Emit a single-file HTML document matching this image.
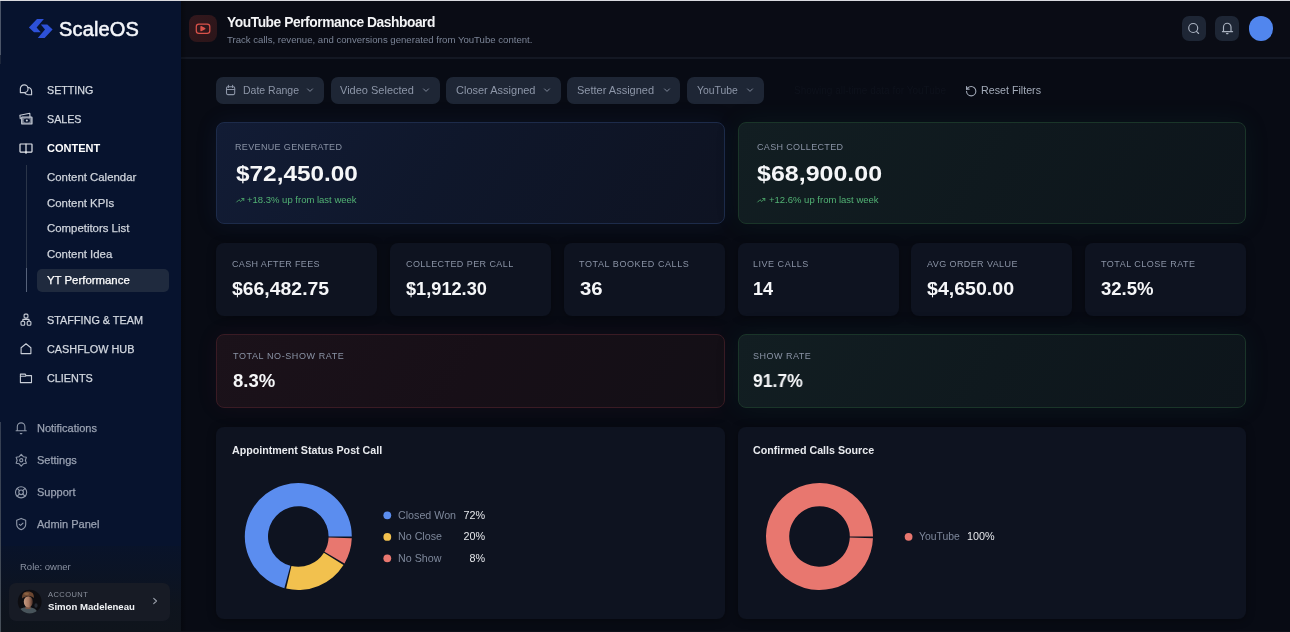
<!DOCTYPE html>
<html><head><meta charset="utf-8"><title>YouTube Performance Dashboard</title><style>
*{margin:0;padding:0;box-sizing:border-box}
html,body{width:1290px;height:632px;overflow:hidden;background:#080b14;font-family:"Liberation Sans",sans-serif}
.t{position:absolute;line-height:1;white-space:nowrap;will-change:transform}
.ic{position:absolute;overflow:visible}
.abs{position:absolute}
.card{position:absolute;border-radius:8px;background:#0e1320;box-shadow:0 1px 8px rgba(0,0,0,0.35)}
.btn{position:absolute;border-radius:7px;background:#1e2635}
</style></head><body>
<div class="abs" style="left:181px;top:0;width:1109px;height:632px;background:#080b14"></div>
<div class="abs" style="left:181px;top:0;width:1109px;height:57px;background:#0a0c15"></div>
<div class="abs" style="left:181px;top:57px;width:1109px;height:2px;background:#141823"></div>
<div class="abs" style="left:0;top:0;width:181px;height:632px;background:#07132e"></div>
<div class="abs" style="left:0;top:546px;width:181px;height:86px;background:linear-gradient(180deg,rgba(14,20,30,0.25) 0%,rgba(14,20,30,0.55) 30%,rgba(15,20,28,0.9) 70%,#0f141c 100%)"></div>
<div class="abs" style="left:181px;top:0;width:6px;height:632px;background:linear-gradient(90deg,rgba(0,0,0,0.25),rgba(0,0,0,0))"></div>
<svg class="abs" style="left:0;top:0" width="181" height="60" viewBox="0 0 181 60"><polygon fill="#2d51d8" points="37,18.9 43.9,18.9 36.6,27.4 40.8,32.3 34,32.3 28.9,27.4"/><polygon fill="#2d51d8" points="40.8,24.5 47.3,24.5 52.6,29.5 44.6,38 37.8,38 45,29.5"/></svg>
<div class="t" style="left:58.6px;top:19.07px;font-size:20px;color:#f4f6fa;letter-spacing:0.15px;-webkit-text-stroke:0.55px #f4f6fa;">ScaleOS</div>
<div class="t" style="left:47.0px;top:85.14px;font-size:10.7px;color:#d3d8e0;-webkit-text-stroke:0.25px #d3d8e0;">SETTING</div>
<div class="t" style="left:47.0px;top:114.34px;font-size:10.7px;color:#d3d8e0;-webkit-text-stroke:0.25px #d3d8e0;">SALES</div>
<div class="t" style="left:47.0px;top:143.29px;font-size:11px;color:#ffffff;font-weight:700;">CONTENT</div>
<div class="abs" style="left:26px;top:165px;width:1px;height:127px;background:#2a3549"></div>
<div class="abs" style="left:26px;top:268px;width:1px;height:24px;background:#56627a"></div>
<div class="abs" style="left:37px;top:268.5px;width:132px;height:23.5px;border-radius:5px;background:#1f2a3e"></div>
<div class="t" style="left:46.7px;top:172.45px;font-size:11.4px;color:#cfd4dc;-webkit-text-stroke:0.25px #cfd4dc;">Content Calendar</div>
<div class="t" style="left:46.7px;top:198.05px;font-size:11.4px;color:#cfd4dc;-webkit-text-stroke:0.25px #cfd4dc;">Content KPIs</div>
<div class="t" style="left:46.7px;top:223.35px;font-size:11.4px;color:#cfd4dc;-webkit-text-stroke:0.25px #cfd4dc;">Competitors List</div>
<div class="t" style="left:46.7px;top:248.95px;font-size:11.4px;color:#cfd4dc;-webkit-text-stroke:0.25px #cfd4dc;">Content Idea</div>
<div class="t" style="left:46.7px;top:274.55px;font-size:11.4px;color:#ffffff;-webkit-text-stroke:0.25px #ffffff;">YT Performance</div>
<div class="t" style="left:47.0px;top:315.02px;font-size:10.85px;color:#d3d8e0;-webkit-text-stroke:0.25px #d3d8e0;">STAFFING &amp; TEAM</div>
<div class="t" style="left:47.0px;top:344.02px;font-size:10.85px;color:#d3d8e0;-webkit-text-stroke:0.25px #d3d8e0;">CASHFLOW HUB</div>
<div class="t" style="left:47.0px;top:373.42px;font-size:10.85px;color:#d3d8e0;-webkit-text-stroke:0.25px #d3d8e0;">CLIENTS</div>
<div class="t" style="left:37.0px;top:423.19px;font-size:11px;color:#9aa2b2;-webkit-text-stroke:0.25px #9aa2b2;">Notifications</div>
<div class="t" style="left:37.0px;top:454.99px;font-size:11px;color:#9aa2b2;-webkit-text-stroke:0.25px #9aa2b2;">Settings</div>
<div class="t" style="left:37.0px;top:486.89px;font-size:11px;color:#9aa2b2;-webkit-text-stroke:0.25px #9aa2b2;">Support</div>
<div class="t" style="left:37.0px;top:518.99px;font-size:11px;color:#9aa2b2;-webkit-text-stroke:0.25px #9aa2b2;">Admin Panel</div>
<div class="t" style="left:19.5px;top:562.16px;font-size:9.5px;color:#8a92a2;">Role: owner</div>
<div class="abs" style="left:8.5px;top:582.5px;width:161px;height:38px;border-radius:7px;background:#171b25"></div>
<svg class="abs" style="left:14px;top:587px" width="30" height="30" viewBox="0 0 30 30"><defs><clipPath id="av"><circle cx="15.7" cy="14.7" r="11.9"/></clipPath><linearGradient id="fc" x1="0" x2="1" y1="0" y2="0"><stop offset="0" stop-color="#c49a82"/><stop offset="0.55" stop-color="#a87860"/><stop offset="1" stop-color="#4a3028"/></linearGradient></defs><g clip-path="url(#av)"><rect width="30" height="30" fill="#0d0d11"/><ellipse cx="13.6" cy="25.5" rx="9.5" ry="5.5" fill="#48545b"/><rect x="11.5" y="17" width="5" height="5" fill="#7a5646"/><ellipse cx="14.3" cy="14.8" rx="4.5" ry="5.6" fill="url(#fc)"/><path d="M8.2 11.5C7.6 6.5 10.5 4.6 14 4.6C17.8 4.6 20.4 6.6 19.8 11.2C18.6 9.4 16.5 9 14.2 9.3C11.8 9.6 9.6 10 8.2 11.5Z" fill="#6b4630"/><ellipse cx="12.5" cy="6.8" rx="2.5" ry="1.3" fill="#8a6040"/><ellipse cx="22" cy="18.5" rx="1.6" ry="2.2" fill="#262a33"/></g></svg>
<div class="t" style="left:48.0px;top:591.05px;font-size:7.5px;color:#8b919d;letter-spacing:0.45px;">ACCOUNT</div>
<div class="t" style="left:48.0px;top:601.87px;font-size:9.6px;color:#f1f3f6;font-weight:700;">Simon Madeleneau</div>
<svg class="ic" style="left:17px;top:82px;width:18px;height:18px" viewBox="0 0 18 18" fill="none" stroke="#c9ced8" stroke-width="1.15" stroke-linecap="round" stroke-linejoin="round"><path d="M3.35 10.4V6.7A3.85 3.85 0 1 1 7.2 10.55H3.35z"/><path d="M10.9 5.5A3.9 3.9 0 0 1 14.6 9.3V12.7H10.9A3.9 3.9 0 0 1 7.5 10.6"/></svg>
<svg class="ic" style="left:17px;top:111px;width:18px;height:18px" viewBox="0 0 18 18" fill="none" stroke="#c9ced8" stroke-width="1.15" stroke-linecap="round" stroke-linejoin="round"><path d="M3.3 7.6L2.9 4.3L12.8 2.3L13 5.9"/><rect x="4.7" y="6" width="10.3" height="7" rx="0.6" fill="rgba(201,206,216,0.55)"/><ellipse cx="9.85" cy="9.5" rx="3.1" ry="2.1" fill="#07132e" stroke="none"/><circle cx="9.85" cy="9.5" r="1.05" fill="#c9ced8" stroke="none"/></svg>
<svg class="ic" style="left:17px;top:139px;width:18px;height:18px" viewBox="0 0 18 18" fill="none" stroke="#e3e6eb" stroke-width="1.2" stroke-linecap="round" stroke-linejoin="round"><rect x="3" y="5" width="12" height="8.1" rx="0.5"/><path d="M9 5V13.1"/><path d="M9 13.1V14.1" stroke-width="1.6"/></svg>
<svg class="ic" style="left:17px;top:312px;width:18px;height:18px" viewBox="0 0 18 18" fill="none" stroke="#c9ced8" stroke-width="1.1" stroke-linecap="round" stroke-linejoin="round"><rect x="7.1" y="2.1" width="3.8" height="3.9" rx="1"/><rect x="4" y="9.2" width="3.7" height="4.1" rx="1"/><rect x="10.2" y="9.2" width="3.7" height="4.1" rx="1"/><path d="M9 6V7.4M5.85 9.2V7.4H12.05V9.2"/></svg>
<svg class="ic" style="left:17px;top:340px;width:18px;height:18px" viewBox="0 0 18 18" fill="none" stroke="#c9ced8" stroke-width="1.1" stroke-linecap="round" stroke-linejoin="round"><path d="M4.1 13.6V7.8L9 3.8L13.9 7.8V13.6Z"/></svg>
<svg class="ic" style="left:17px;top:369px;width:18px;height:18px" viewBox="0 0 18 18" fill="none" stroke="#c9ced8" stroke-width="1.1" stroke-linecap="round" stroke-linejoin="round"><path d="M3.4 13.6V5.1H8.2L9 6.6H14.5V13.6Z"/><path d="M3.4 7.3H8.3L9 6.6"/></svg>
<svg class="ic" style="left:12px;top:420px;width:18px;height:18px" viewBox="0 0 18 18" fill="none" stroke="#8f98a9" stroke-width="1.1" stroke-linecap="round" stroke-linejoin="round"><path d="M4.1 10.8H14.3M5.3 10.8V6.7A3.8 3.8 0 0 1 12.9 6.7V10.8"/><path d="M8.4 13.6H9.8" stroke-width="1.3"/></svg>
<svg class="ic" style="left:12px;top:452px;width:18px;height:18px" viewBox="0 0 18 18" fill="none" stroke="#8f98a9" stroke-width="1.1" stroke-linecap="round" stroke-linejoin="round"><polygon points="9.26,2.36 7.21,4.71 4.15,5.31 5.16,8.26 4.15,11.21 7.21,11.81 9.26,14.16 11.31,11.81 14.37,11.21 13.36,8.26 14.37,5.31 11.31,4.71"/><circle cx="9.26" cy="8.26" r="1.6"/></svg>
<svg class="ic" style="left:12px;top:484px;width:18px;height:18px" viewBox="0 0 18 18" fill="none" stroke="#8f98a9" stroke-width="1.1" stroke-linecap="round" stroke-linejoin="round"><circle cx="9.1" cy="8.3" r="5.6"/><circle cx="9.1" cy="8.3" r="2.3"/><path d="M5.15 4.35L7.5 6.7M13.05 4.35L10.7 6.7M13.05 12.25L10.7 9.9M5.15 12.25L7.5 9.9"/></svg>
<svg class="ic" style="left:12px;top:516px;width:18px;height:18px" viewBox="0 0 18 18" fill="none" stroke="#8f98a9" stroke-width="1.1" stroke-linecap="round" stroke-linejoin="round"><path d="M9.2 2.4L13.7 4.2V8.3C13.7 11.2 11.6 12.9 9.2 13.8C6.8 12.9 4.7 11.2 4.7 8.3V4.2Z"/><path d="M7.3 8.3L8.6 9.4L11 7.2"/></svg>
<svg class="ic" style="left:148px;top:592px;width:18px;height:18px" viewBox="0 0 18 18" fill="none" stroke="#9aa0ab" stroke-width="1.1" stroke-linecap="round" stroke-linejoin="round"><path d="M5.7 6.3L8.5 9L5.7 11.7"/></svg>
<div class="abs" style="left:189px;top:15px;width:27.5px;height:27.2px;border-radius:8px;background:linear-gradient(135deg,#34181d,#2b1519)"></div>
<svg class="ic" style="left:187px;top:13px;width:32px;height:32px" viewBox="0 0 32 32" fill="none" stroke="#d9524a" stroke-width="1.25" stroke-linecap="round" stroke-linejoin="round"><rect x="9.3" y="11" width="13.5" height="9.3" rx="2.6"/><path d="M14 13.6L17.8 15.65L14 17.7Z" fill="#d9524a"/></svg>
<div class="t" style="left:226.5px;top:16.32px;font-size:13.8px;color:#f3f4f6;font-weight:700;letter-spacing:-0.45px;">YouTube Performance Dashboard</div>
<div class="t" style="left:226.7px;top:34.57px;font-size:9.6px;color:#7b8496;">Track calls, revenue, and conversions generated from YouTube content.</div>
<div class="btn" style="left:1181.8px;top:16.4px;width:24.2px;height:24.2px"></div>
<svg class="ic" style="left:1180px;top:15px;width:28px;height:28px" viewBox="0 0 28 28" fill="none" stroke="#aab2c0" stroke-width="1.15" stroke-linecap="round" stroke-linejoin="round"><circle cx="13.2" cy="13" r="4.5"/><path d="M16.5 16.4L18.6 18.5"/></svg>
<div class="btn" style="left:1215.3px;top:16.4px;width:24px;height:24.2px"></div>
<svg class="ic" style="left:1214px;top:15px;width:28px;height:28px" viewBox="0 0 28 28" fill="none" stroke="#aab2c0" stroke-width="1.15" stroke-linecap="round" stroke-linejoin="round"><path d="M8.4 16.6H18.6M9.5 16.6V12A3.75 3.75 0 0 1 17 12V16.6"/><path d="M12.6 18.6H13.9" stroke-width="1.4"/></svg>
<div class="abs" style="left:1248.8px;top:16.3px;width:24.5px;height:24.5px;border-radius:50%;background:#5186ee"></div>
<div class="btn" style="left:216px;top:77px;width:108.4px;height:27px"></div>
<div class="t" style="left:242.6px;top:85.31px;font-size:10.5px;color:#8d96a8;">Date Range</div>
<svg class="ic" style="left:304.4px;top:81px;width:18px;height:18px" viewBox="0 0 18 18" fill="none" stroke="#7f889a" stroke-width="1.0" stroke-linecap="round" stroke-linejoin="round"><path d="M3.5 7.9L6 10.4L8.5 7.9"/></svg>
<svg class="ic" style="left:220px;top:80px;width:18px;height:18px" viewBox="0 0 18 18" fill="none" stroke="#8d96a8" stroke-width="1.05" stroke-linecap="round" stroke-linejoin="round"><rect x="6.5" y="6.8" width="8.2" height="7.8" rx="1.3"/><path d="M8.4 5.3V7.5M12.6 5.3V7.5M6.5 9.5H14.7"/></svg>
<div class="btn" style="left:331.3px;top:77px;width:108.8px;height:27px"></div>
<div class="t" style="left:340.2px;top:84.89px;font-size:11px;color:#8d96a8;">Video Selected</div>
<svg class="ic" style="left:420.1px;top:81px;width:18px;height:18px" viewBox="0 0 18 18" fill="none" stroke="#7f889a" stroke-width="1.0" stroke-linecap="round" stroke-linejoin="round"><path d="M3.5 7.9L6 10.4L8.5 7.9"/></svg>
<div class="btn" style="left:446.4px;top:77px;width:114.3px;height:27px"></div>
<div class="t" style="left:455.9px;top:84.89px;font-size:11px;color:#8d96a8;">Closer Assigned</div>
<svg class="ic" style="left:540.7px;top:81px;width:18px;height:18px" viewBox="0 0 18 18" fill="none" stroke="#7f889a" stroke-width="1.0" stroke-linecap="round" stroke-linejoin="round"><path d="M3.5 7.9L6 10.4L8.5 7.9"/></svg>
<div class="btn" style="left:567.4px;top:77px;width:113.1px;height:27px"></div>
<div class="t" style="left:576.9px;top:84.89px;font-size:11px;color:#8d96a8;">Setter Assigned</div>
<svg class="ic" style="left:660.5px;top:81px;width:18px;height:18px" viewBox="0 0 18 18" fill="none" stroke="#7f889a" stroke-width="1.0" stroke-linecap="round" stroke-linejoin="round"><path d="M3.5 7.9L6 10.4L8.5 7.9"/></svg>
<div class="btn" style="left:687.1px;top:77px;width:76.5px;height:27px"></div>
<div class="t" style="left:696.6px;top:85.90px;font-size:10.4px;color:#8d96a8;">YouTube</div>
<svg class="ic" style="left:743.6px;top:81px;width:18px;height:18px" viewBox="0 0 18 18" fill="none" stroke="#7f889a" stroke-width="1.0" stroke-linecap="round" stroke-linejoin="round"><path d="M3.5 7.9L6 10.4L8.5 7.9"/></svg>
<svg class="ic" style="left:964.95px;top:84.65px;width:12.4px;height:12.4px;" viewBox="0 0 24 24" fill="none" stroke="#a3abb9" stroke-width="2.1" stroke-linecap="round" stroke-linejoin="round"><path d="M3 12a9 9 0 1 0 9-9 9.75 9.75 0 0 0-6.74 2.74L3 8"/><path d="M3 3v5h5"/></svg>
<div class="t" style="left:981.4px;top:84.94px;font-size:10.7px;color:#a3abb9;">Reset Filters</div>
<div class="t" style="left:794.0px;top:86.03px;font-size:10px;color:#0e121c;">Showing all-time data for YouTube</div>
<div class="card" style="left:216px;top:122.3px;width:508.5px;height:102px;border:1px solid #1d2b4a;background:linear-gradient(120deg,#121c35 0%,#0f172b 45%,#0e1322 100%);box-shadow:0 0 22px rgba(40,70,140,0.12)"></div>
<div class="card" style="left:737.5px;top:122.3px;width:508.5px;height:102px;border:1px solid #1a3529;background:linear-gradient(120deg,#121e22 0%,#0f191e 50%,#0d151b 100%);box-shadow:0 0 26px rgba(30,120,90,0.10)"></div>
<div class="t" style="left:235.1px;top:143.28px;font-size:9px;color:#8a93a5;letter-spacing:0.35px;">REVENUE GENERATED</div>
<div class="t" style="left:236.0px;top:162.98px;font-size:22px;color:#f5f6f8;font-weight:700;transform:scaleX(1.107);transform-origin:0 0;">$72,450.00</div>
<svg class="ic" style="left:235.5px;top:195.5px;width:8.5px;height:8.5px;" viewBox="0 0 24 24" fill="none" stroke="#4fae6e" stroke-width="2.4" stroke-linecap="round" stroke-linejoin="round"><polyline points="22 7 13.5 15.5 8.5 10.5 2 17"/><polyline points="16 7 22 7 22 13"/></svg>
<div class="t" style="left:247.3px;top:194.86px;font-size:9.5px;color:#52b274;">+18.3% up from last week</div>
<div class="t" style="left:757.0px;top:143.28px;font-size:9px;color:#8a93a5;letter-spacing:0.35px;">CASH COLLECTED</div>
<div class="t" style="left:757.2px;top:162.98px;font-size:22px;color:#f5f6f8;font-weight:700;transform:scaleX(1.136);transform-origin:0 0;">$68,900.00</div>
<svg class="ic" style="left:757px;top:195.5px;width:8.5px;height:8.5px;" viewBox="0 0 24 24" fill="none" stroke="#4fae6e" stroke-width="2.4" stroke-linecap="round" stroke-linejoin="round"><polyline points="22 7 13.5 15.5 8.5 10.5 2 17"/><polyline points="16 7 22 7 22 13"/></svg>
<div class="t" style="left:768.8px;top:194.86px;font-size:9.5px;color:#52b274;">+12.6% up from last week</div>
<div class="card" style="left:216.3px;top:243px;width:161px;height:72.6px"></div>
<div class="t" style="left:231.8px;top:259.78px;font-size:9px;color:#8a93a5;letter-spacing:0.36px;">CASH AFTER FEES</div>
<div class="t" style="left:232.1px;top:280.16px;font-size:18px;color:#f5f6f8;font-weight:700;transform:scaleX(1.078);transform-origin:0 0;">$66,482.75</div>
<div class="card" style="left:390px;top:243px;width:161px;height:72.6px"></div>
<div class="t" style="left:405.5px;top:259.78px;font-size:9px;color:#8a93a5;letter-spacing:0.42px;">COLLECTED PER CALL</div>
<div class="t" style="left:405.8px;top:280.16px;font-size:18px;color:#f5f6f8;font-weight:700;transform:scaleX(1.01);transform-origin:0 0;">$1,912.30</div>
<div class="card" style="left:563.8px;top:243px;width:161px;height:72.6px"></div>
<div class="t" style="left:579.3px;top:259.78px;font-size:9px;color:#8a93a5;letter-spacing:0.58px;">TOTAL BOOKED CALLS</div>
<div class="t" style="left:579.6px;top:280.16px;font-size:18px;color:#f5f6f8;font-weight:700;transform:scaleX(1.13);transform-origin:0 0;">36</div>
<div class="card" style="left:737.5px;top:243px;width:161px;height:72.6px"></div>
<div class="t" style="left:753.0px;top:259.78px;font-size:9px;color:#8a93a5;letter-spacing:0.52px;">LIVE CALLS</div>
<div class="t" style="left:753.3px;top:280.16px;font-size:18px;color:#f5f6f8;font-weight:700;">14</div>
<div class="card" style="left:911px;top:243px;width:161px;height:72.6px"></div>
<div class="t" style="left:926.5px;top:259.78px;font-size:9px;color:#8a93a5;letter-spacing:0.41px;">AVG ORDER VALUE</div>
<div class="t" style="left:926.8px;top:280.16px;font-size:18px;color:#f5f6f8;font-weight:700;transform:scaleX(1.0875);transform-origin:0 0;">$4,650.00</div>
<div class="card" style="left:1085px;top:243px;width:161px;height:72.6px"></div>
<div class="t" style="left:1100.5px;top:259.78px;font-size:9px;color:#8a93a5;letter-spacing:0.49px;">TOTAL CLOSE RATE</div>
<div class="t" style="left:1100.8px;top:280.16px;font-size:18px;color:#f5f6f8;font-weight:700;transform:scaleX(1.03);transform-origin:0 0;">32.5%</div>
<div class="card" style="left:216px;top:334px;width:508.5px;height:74.4px;border:1px solid #3a1b24;background:linear-gradient(120deg,#1b121a 0%,#170f17 50%,#130f16 100%);box-shadow:0 0 22px rgba(140,40,60,0.08)"></div>
<div class="card" style="left:737.5px;top:334px;width:508.5px;height:74.4px;border:1px solid #1a3529;background:linear-gradient(120deg,#121e22 0%,#0f191e 50%,#0d151b 100%);box-shadow:0 0 26px rgba(30,120,90,0.10)"></div>
<div class="t" style="left:232.5px;top:352.38px;font-size:9px;color:#8a93a5;letter-spacing:0.6px;">TOTAL NO-SHOW RATE</div>
<div class="t" style="left:232.5px;top:371.86px;font-size:18px;color:#f5f6f8;font-weight:700;transform:scaleX(1.03);transform-origin:0 0;">8.3%</div>
<div class="t" style="left:753.2px;top:352.38px;font-size:9px;color:#8a93a5;letter-spacing:0.5px;">SHOW RATE</div>
<div class="t" style="left:753.2px;top:371.86px;font-size:18px;color:#f5f6f8;font-weight:700;transform:scaleX(0.976);transform-origin:0 0;">91.7%</div>
<div class="card" style="left:216.3px;top:427.1px;width:508.5px;height:191.6px"></div>
<div class="card" style="left:737.5px;top:427.1px;width:508.5px;height:191.6px"></div>
<div class="t" style="left:231.7px;top:444.64px;font-size:10.7px;color:#e8eaee;font-weight:700;">Appointment Status Post Call</div>
<div class="t" style="left:752.7px;top:444.64px;font-size:10.7px;color:#e8eaee;font-weight:700;">Confirmed Calls Source</div>
<svg class="abs" style="left:0;top:0" width="1290" height="632" viewBox="0 0 1290 632"><path d="M351.80 536.50 A53.5 53.5 0 1 0 284.34 588.15 L290.40 565.75 A30.3 30.3 0 1 1 328.60 536.50 Z" fill="#5b8def"/><path d="M286.16 588.60 A53.5 53.5 0 0 0 343.51 565.10 L323.91 552.70 A30.3 30.3 0 0 1 291.42 566.01 Z" fill="#f2c14e"/><path d="M344.48 563.51 A53.5 53.5 0 0 0 351.77 538.37 L328.58 537.56 A30.3 30.3 0 0 1 324.46 551.80 Z" fill="#e8776f"/><path d="M873.00 536.50 A53.5 53.5 0 1 0 872.97 538.37 L849.78 537.56 A30.3 30.3 0 1 1 849.80 536.50 Z" fill="#e8776f"/><circle cx="387.3" cy="515.3" r="3.9" fill="#5b8def"/><circle cx="387.3" cy="536.9" r="3.9" fill="#f2c14e"/><circle cx="387.3" cy="558.3" r="3.9" fill="#e8776f"/><circle cx="908.6" cy="536.8" r="3.9" fill="#e8776f"/></svg>
<div class="t" style="left:397.8px;top:509.94px;font-size:10.7px;color:#7d879a;">Closed Won</div>
<div class="t" style="left:440px;width:45px;text-align:right;top:509.86px;font-size:10.8px;color:#e5e7eb">72%</div>
<div class="t" style="left:397.8px;top:531.34px;font-size:10.7px;color:#7d879a;">No Close</div>
<div class="t" style="left:440px;width:45px;text-align:right;top:531.26px;font-size:10.8px;color:#e5e7eb">20%</div>
<div class="t" style="left:397.8px;top:552.74px;font-size:10.7px;color:#7d879a;">No Show</div>
<div class="t" style="left:440px;width:45px;text-align:right;top:552.66px;font-size:10.8px;color:#e5e7eb">8%</div>
<div class="t" style="left:919.3px;top:531.60px;font-size:10.4px;color:#7d879a;">YouTube</div>
<div class="t" style="left:967.1px;top:531.26px;font-size:10.8px;color:#e5e7eb;">100%</div>
<div class="abs" style="left:0;top:0;width:1px;height:55px;background:#4b5568"></div>
<div class="abs" style="left:0;top:55px;width:1px;height:9px;background:#1c263b"></div>
<div class="abs" style="left:0;top:422px;width:1px;height:210px;background:linear-gradient(180deg,#343e52,#485059)"></div>
<div class="abs" style="left:0;top:0;width:1290px;height:1px;background:#d9dadf"></div>
<div class="abs" style="left:181px;top:631px;width:1109px;height:1px;background:#0e111a"></div>
</body></html>
